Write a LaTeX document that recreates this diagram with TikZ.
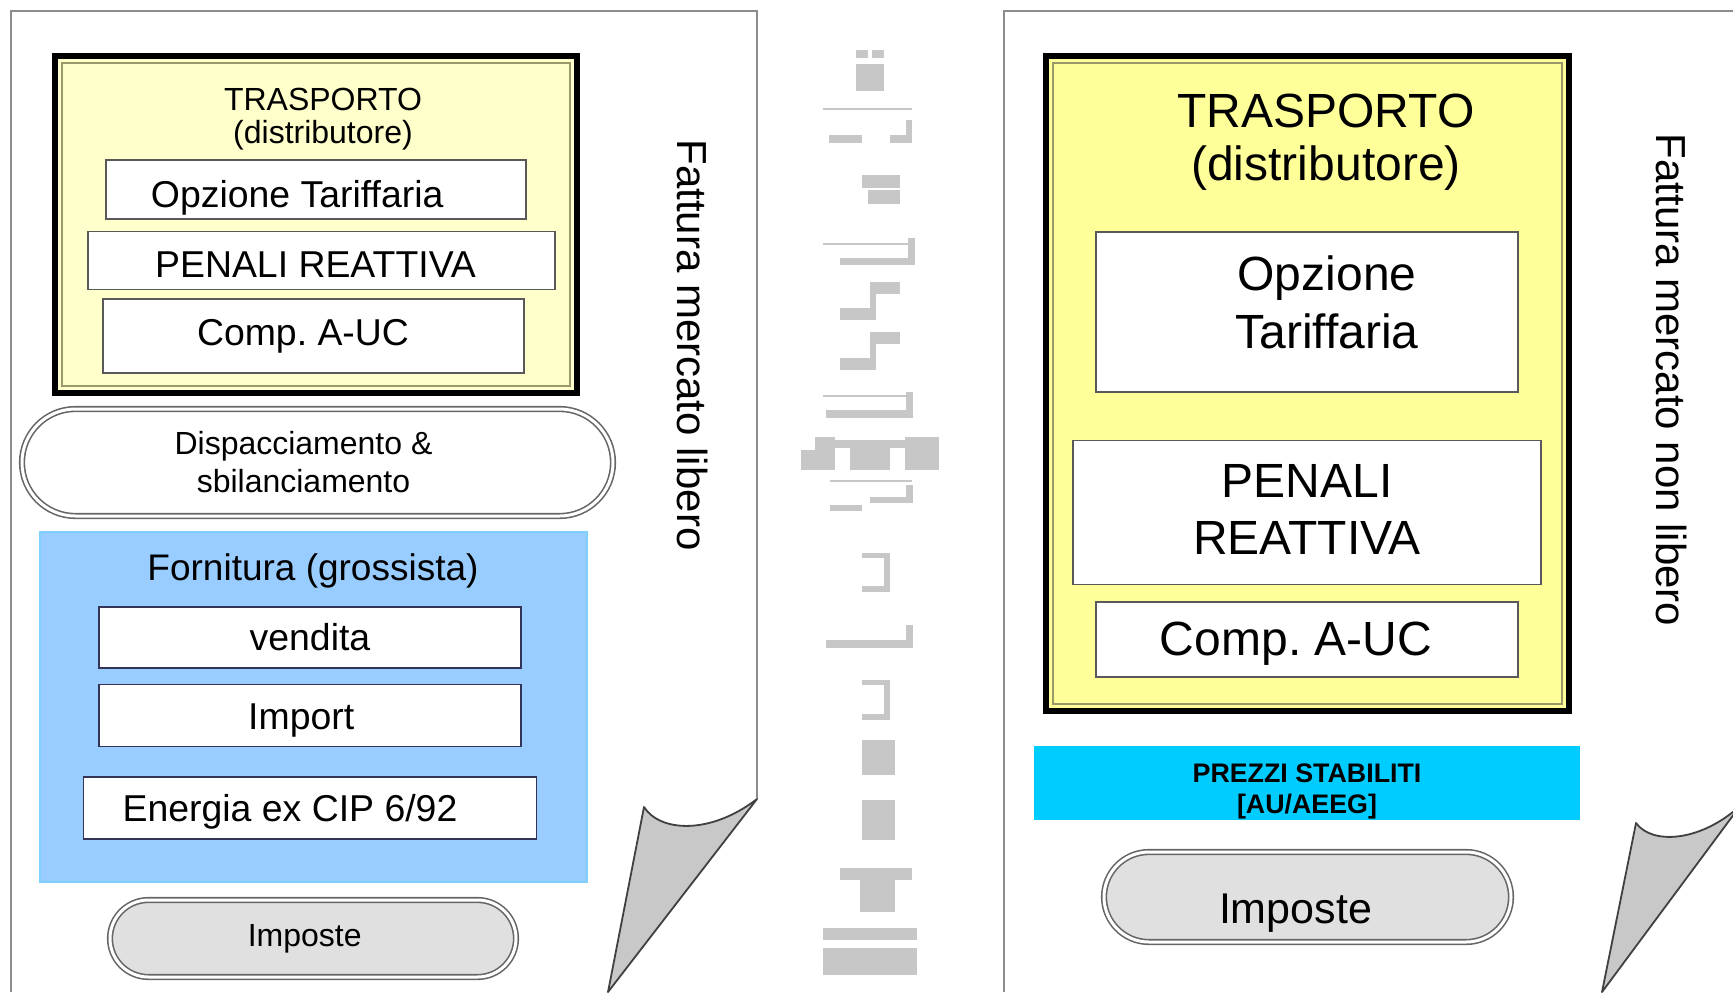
\documentclass[tikz,border=0pt]{standalone}
\usepackage{fontspec}
\setmainfont{Liberation Sans}
\usepackage{tikz}
\usetikzlibrary{shapes,arrows,positioning}
\frenchspacing

\definecolor{paleyellow}{HTML}{FFFFCC}
\definecolor{ryellow}{HTML}{FFFF99}
\definecolor{fornblue}{HTML}{99CCFF}
\definecolor{fornedge}{HTML}{80D0FF}
\definecolor{prezcyan}{HTML}{00CCFF}
\definecolor{pagegray}{HTML}{8C8C8C}
\definecolor{curlgray}{HTML}{C8C8C8}
\definecolor{olive}{HTML}{99996A}
\definecolor{navy}{HTML}{333355}

\tikzset{
  trasbox/.style={draw=black, line width=3pt, inner sep=0pt},
  innerline/.style={draw=olive, line width=0.9pt},
  whitebox/.style={draw=black!65, line width=0.8pt, fill=white, inner sep=0pt, align=center},
  bluebox/.style={draw=navy, line width=0.8pt, fill=white, inner sep=0pt},
  pill/.style={draw=black!60, double=white, double distance=1.5pt, line width=0.8pt,
    rounded corners=#1, inner sep=0pt, align=center},
  pagerim/.style={draw=pagegray, line width=1pt},
  curlline/.style={draw=black!75, line width=0.9pt, fill=curlgray, line join=round},
  garble/.style={fill=black!22}
}

\begin{document}
\begin{tikzpicture}[x=0.5pt,y=-0.5pt]
\useasboundingbox (0,0) rectangle (1733,992);

\draw[pagerim] (11,992) -- (11,11) -- (757,11) -- (757,799);
\draw[curlline] (757,799) -- (608,992) -- (644,807) .. controls (660,832) and (710,835) .. (757,799) -- cycle;
\draw[pagerim] (1004,992) -- (1004,11) -- (1740,11);
\draw[curlline] (1740,806) -- (1602,992) -- (1636,823) .. controls (1652,845) and (1700,842) .. (1740,806) -- cycle;

\node[trasbox, fill=paleyellow, minimum width=261pt, minimum height=168.5pt] (trasL) at (316,224.5) {};
\node[font=\fontsize{16}{16.5}\selectfont, align=center] (trasLt) at (323,119) {TRASPORTO\\(distributore)};
\node[whitebox, minimum width=210pt, minimum height=29.5pt, font=\fontsize{18.7}{21}\selectfont]
    (opzL) at (316,189.5) {\rule{0pt}{21.5pt}Opzione Tariffaria\hspace*{18.8pt}};
\node[whitebox, minimum width=233.5pt, minimum height=29pt, font=\fontsize{18.7}{21}\selectfont,
    below=5.5pt of opzL, xshift=2.75pt] (penL) {\rule{0pt}{16.5pt}PENALI REATTIVA\hspace*{6pt}};
\node[whitebox, minimum width=210.5pt, minimum height=37pt, font=\fontsize{18.7}{21}\selectfont,
    below=4pt of penL, xshift=-4pt] (compL) {Comp. A-UC\hspace*{10.5pt}};

\node[pill=26.75pt, minimum width=295.5pt, minimum height=53.5pt, font=\fontsize{16}{19}\selectfont]
    (dispL) at (317.5,462.5) {Dispacciamento \&\hspace*{14pt}\\sbilanciamento\hspace*{14pt}};

\node[fill=fornblue, draw=fornedge, line width=1pt, minimum width=273.5pt, minimum height=175pt,
    inner sep=0pt] (fornL) at (313.5,707) {};
\node[font=\fontsize{18.5}{22}\selectfont] (fornLt) at (313,571) {Fornitura (grossista)};
\node[bluebox, minimum width=211pt, minimum height=30.5pt, font=\fontsize{18.7}{21}\selectfont]
    (vendL) at (310,637.5) {vendita};
\node[bluebox, minimum width=211pt, minimum height=31pt, font=\fontsize{18.7}{21}\selectfont,
    below=7.5pt of vendL] (impL) {\rule{0pt}{17.9pt}Import\hspace*{8.8pt}};
\node[bluebox, minimum width=226.5pt, minimum height=31pt, font=\fontsize{18.7}{21}\selectfont,
    below=14.5pt of impL] (cipL) {\rule{0pt}{16.7pt}Energia ex CIP 6/92\hspace*{20pt}};

\node[pill=19.25pt, fill=black!12, minimum width=203pt, minimum height=38.5pt,
    font=\fontsize{16}{19}\selectfont] (impostL) at (313,938.5) {Imposte\hspace*{8.3pt}};

\node[rotate=-90, font=\fontsize{21}{25}\selectfont] (fattL) at (693,345) {Fattura mercato libero};

\foreach \xa/\ya/\xb/\yb in {856/50/868/58, 872/50/884/58, 856/64/884/91,
    823/108/912/110, 829/135/862/143, 890/135/912/143, 906/120/912/143,
    862/175/900/188, 868/190/900/204,
    823/243/912/245, 840/258/915/265, 908/238/915/265,
    840/308/873/320, 870/282/876/320, 873/282/900/294,
    840/358/873/370, 870/332/876/370, 873/332/900/344,
    823/395/912/397, 826/410/912/418, 906/392/913/418,
    801/450/835/470, 815/437/835/450, 835/440/905/448, 850/448/890/470, 905/437/939/470,
    830/480/912/482, 830/505/862/511, 870/497/912/503, 906/485/913/503,
    862/553/890/558, 884/553/890/592, 862/586/890/592,
    826/640/912/648, 906/625/913/648,
    862/680/890/685, 884/680/890/720, 862/714/890/720,
    862/740/895/775, 862/800/895/840,
    840/868/912/880, 860/880/895/912,
    823/928/917/940, 823/948/917/975}
  \fill[garble] (\xa,\ya) rectangle (\xb,\yb);

\node[trasbox, fill=ryellow, minimum width=261.5pt, minimum height=327.5pt] (trasR) at (1307.5,383.5) {};
\node[font=\fontsize{24}{26.5}\selectfont, align=center] (trasRt) at (1326,142) {TRASPORTO\\(distributore)};
\node[whitebox, minimum width=211pt, minimum height=80pt, font=\fontsize{24}{29}\selectfont]
    (opzR) at (1307,312) {\hspace*{20pt}Opzione\\\hspace*{20pt}Tariffaria\rule[-10pt]{0pt}{10pt}};
\node[whitebox, minimum width=234pt, minimum height=72pt, font=\fontsize{24}{28.5}\selectfont,
    below=23.5pt of opzR] (penR) {PENALI\\REATTIVA\rule[-3.4pt]{0pt}{3.4pt}};
\node[whitebox, minimum width=211pt, minimum height=37.5pt, font=\fontsize{24}{28}\selectfont,
    below=8pt of penR] (compR) {\rule{0pt}{20.6pt}Comp. A-UC\hspace*{11pt}};

\foreach \n in {trasL,trasR}
  \draw[innerline] ([shift={(5pt,-5pt)}]\n.north west) rectangle ([shift={(-5pt,5pt)}]\n.south east);

\node[fill=prezcyan, minimum width=273pt, minimum height=37pt, inner sep=0pt, align=center,
    font=\bfseries\fontsize{13.4}{15.5}\selectfont] (prezR) at (1307,783)
    {\rule{0pt}{17.4pt}PREZZI STABILITI\\\relax[AU/AEEG]};
\node[pill=22.5pt, fill=black!12, minimum width=203.5pt, minimum height=45pt,
    font=\fontsize{21.5}{25}\selectfont] (impostR) at (1307.5,897) {\rule{0pt}{30.9pt}Imposte\hspace*{12pt}};

\node[rotate=-90, font=\fontsize{21}{25}\selectfont] (fattR) at (1671,380) {Fattura mercato non libero};
\end{tikzpicture}
\end{document}
